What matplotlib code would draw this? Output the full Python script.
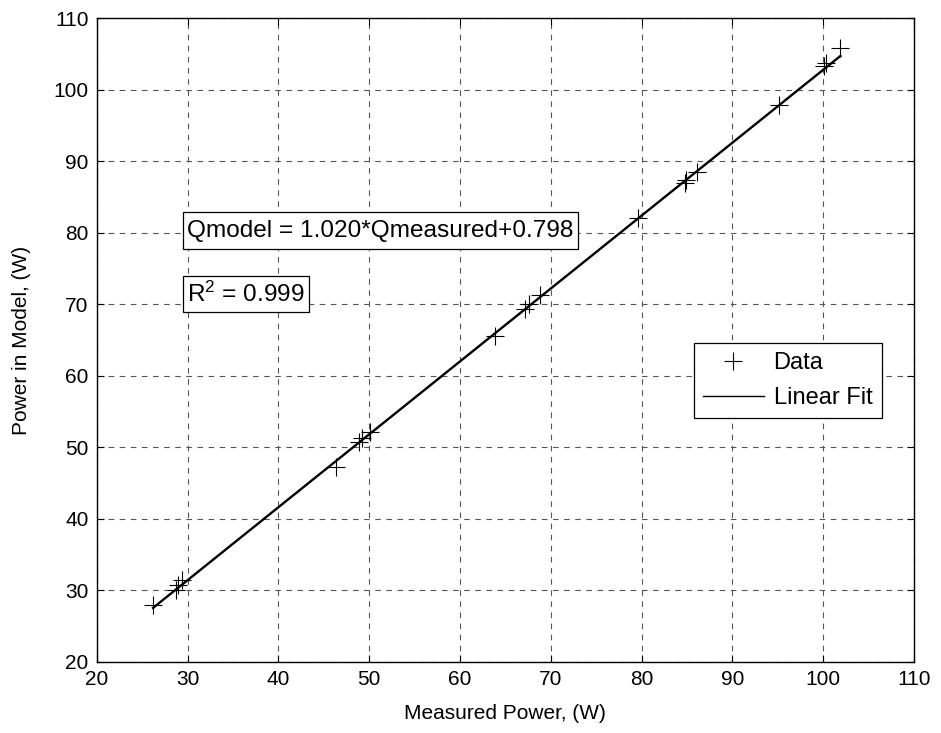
import numpy as np
import matplotlib
matplotlib.use("Agg")
import matplotlib.pyplot as plt
from matplotlib.patches import Rectangle

plt.rcParams['font.family'] = ['Liberation Sans', 'DejaVu Sans']
plt.rcParams['mathtext.fontset'] = 'custom'
plt.rcParams['mathtext.rm'] = 'Liberation Sans'
plt.rcParams['mathtext.it'] = 'Liberation Sans'

# Measured vs modelled power (W)
measured = [26.2, 28.7, 29.0, 29.4, 46.3, 48.9, 49.2, 50.1, 63.9, 67.2, 67.6, 68.8,
            79.6, 84.8, 84.9, 86.1, 95.1, 100.1, 100.3, 101.9]
model = [27.9, 30.0, 30.7, 31.4, 47.3, 50.8, 51.3, 52.2, 65.6, 69.4, 70.0, 71.3,
         82.0, 86.9, 87.4, 88.5, 97.9, 103.4, 103.8, 105.9]

slope = 1.020
intercept = 0.798
r_squared = 0.999

xticks = list(range(20, 111, 10))
yticks = list(range(20, 111, 10))

fig = plt.figure(figsize=(9.41, 7.33), dpi=100)
ax = fig.add_axes([0.1028, 0.0973, 0.8685, 0.8777])

ax.plot(measured, model, linestyle='none', marker='+', color='black',
        markersize=13, markeredgewidth=0.8, label='Data', zorder=3)

fit_x = np.array([min(measured), max(measured)])
fit_y = slope * fit_x + intercept
ax.plot(fit_x, fit_y, color='black', linewidth=1.7, label='Linear Fit', zorder=4)

ax.set_xlim(20, 110)
ax.set_ylim(20, 110)
ax.set_xticks(xticks)
ax.set_yticks(yticks)
ax.tick_params(direction='in', top=True, right=True, length=5, width=0.8,
               labelsize=15, pad=6)
ax.grid(True, color='#555555', linestyle=(0, (5, 5)), linewidth=0.8)
for s in ax.spines.values():
    s.set_linewidth(1.0)

ax.set_xlabel('Measured Power, (W)', fontsize=15, labelpad=11)
ax.set_ylabel('Power in Model, (W)', fontsize=15, labelpad=16)

# Annotation boxes with the fit equation and goodness of fit
ax.add_patch(Rectangle((29.55, 77.7), 43.4, 5.25, facecolor='white',
                       edgecolor='black', linewidth=0.9, zorder=5))
ax.text(29.95, 80.3, f'Qmodel = {slope:.3f}*Qmeasured+{intercept:.3f}', fontsize=17.6,
        ha='left', va='center', zorder=6)
ax.add_patch(Rectangle((29.55, 68.9), 13.85, 5.1, facecolor='white',
                       edgecolor='black', linewidth=0.9, zorder=5))
ax.text(29.95, 71.4, r'R$^{2}$' + f' = {r_squared:.3f}', fontsize=17.6,
        ha='left', va='center', zorder=6)

leg = ax.legend(loc='lower right', bbox_to_anchor=(0.9605, 0.378), fontsize=17,
                frameon=True, fancybox=False, framealpha=1, edgecolor='black',
                handlelength=2.55, handletextpad=0.42, borderpad=0.4, labelspacing=0.55,
                borderaxespad=0)
leg.get_frame().set_linewidth(0.9)
for line in leg.get_lines():
    line.set_linewidth(1.0)

fig.savefig('out.png', dpi=100)
